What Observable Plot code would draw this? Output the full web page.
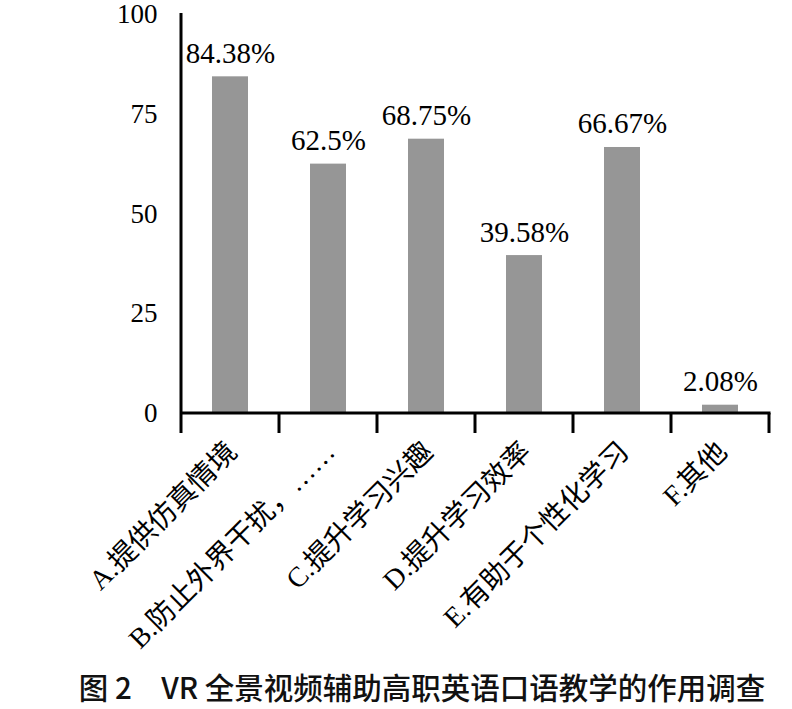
<!DOCTYPE html>
<html><head><meta charset="utf-8">
<script src="https://cdn.jsdelivr.net/npm/d3@7"></script>
<script src="https://cdn.jsdelivr.net/npm/@observablehq/plot@0.6"></script>
<style>
body{margin:0;background:#fff;}
#title{font-family:"Noto Sans CJK SC",sans-serif;font-weight:500;font-size:29.5px;color:#111;width:792px;text-align:center;padding-left:52px;box-sizing:border-box;height:49px;line-height:52px;white-space:pre;}
</style></head>
<body><div id="chart"></div><div id="title">图 2　VR 全景视频辅助高职英语口语教学的作用调查</div>
<script>
const categories = ["A.提供仿真情境","B.防止外界干扰，……","C.提升学习兴趣","D.提升学习效率","E.有助于个性化学习","F.其他"];
const values = [84.38, 62.5, 68.75, 39.58, 66.67, 2.08];
const valueLabels = ["84.38%","62.5%","68.75%","39.58%","66.67%","2.08%"];
const yTicks = [0, 25, 50, 75, 100];

const data = categories.map((c, i) => ({cat: c, v: values[i], label: valueLabels[i]}));
const font = "Liberation Serif, Noto Sans CJK SC, serif";

const axisLines = (index, scales, values, dims) => {
  const g = d3.create("svg:g").attr("stroke", "#000").attr("stroke-width", 3).attr("fill", "none");
  const x = scales.x, y = scales.y;
  const step = x.step();
  const y0 = y(0), yTop = y(100);
  const left = x(categories[0]) - (step - x.bandwidth()) / 2;
  const right = left + step * categories.length;
  g.append("line").attr("x1", left).attr("x2", left).attr("y1", yTop - 1).attr("y2", y0 + 20);
  g.append("line").attr("x1", left).attr("x2", right + 1.5).attr("y1", y0).attr("y2", y0);
  for (let k = 1; k <= categories.length; k++) {
    const bx = left + k * step;
    g.append("line").attr("x1", bx).attr("x2", bx).attr("y1", y0).attr("y2", y0 + 20);
  }
  return g.node();
};

const chart = Plot.plot({
  width: 792,
  height: 660,
  marginLeft: 179,
  marginRight: 22,
  marginTop: 14,
  marginBottom: 247,
  style: {fontFamily: font, background: "#fff", color: "#000"},
  x: {domain: categories, paddingInner: 0.635, paddingOuter: 0.3175, axis: null},
  y: {domain: [0, 100], axis: null},
  marks: [
    Plot.barY(data, {x: "cat", y: "v", fill: "#969696"}),
    Plot.axisY({ticks: yTicks, tickSize: 0, tickPadding: 22, fontSize: 27, fontFamily: font, label: null, tickFormat: d => String(d), fill: "#000"}),
    axisLines,
    Plot.text(data, {x: "cat", y: "v", text: "label", lineAnchor: "bottom", dy: -14, fontSize: 29, fontFamily: font, fill: "#000"}),
    Plot.text(data, {x: "cat", y: () => 0, text: "cat", rotate: -45, textAnchor: "end", lineAnchor: "top", dx: -6, dy: 26, fontSize: 28, fontFamily: font, fill: "#000"})
  ]
});
document.getElementById("chart").appendChild(chart);
</script></body></html>
